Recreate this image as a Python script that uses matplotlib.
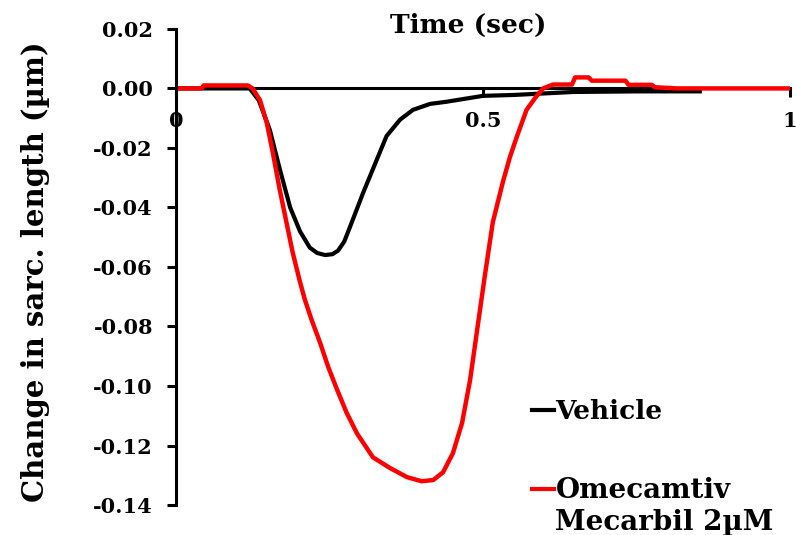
import matplotlib.pyplot as plt
from matplotlib.lines import Line2D

# Time (sec) and change in sarcomere length (um)
vehicle_t = [0.0, 0.12, 0.135, 0.153, 0.169, 0.186, 0.202, 0.218, 0.23, 0.243,
             0.255, 0.264, 0.274, 0.283, 0.305, 0.327, 0.343, 0.365, 0.386, 0.414,
             0.44, 0.47, 0.5, 0.55, 0.647, 0.75, 0.853]
vehicle_v = [0.0, 0.0, -0.004, -0.014, -0.027, -0.040, -0.048, -0.0535, -0.0553, -0.056,
             -0.0557, -0.0545, -0.0515, -0.0468, -0.035, -0.024, -0.016, -0.0105, -0.0072, -0.0052,
             -0.0045, -0.0035, -0.0025, -0.0022, -0.0012, -0.001, -0.001]

omecamtiv_t = [0.0, 0.042, 0.045, 0.117, 0.125, 0.137, 0.148, 0.158, 0.169, 0.18,
               0.19, 0.202, 0.21, 0.221, 0.235, 0.248, 0.262, 0.278, 0.295, 0.321,
               0.349, 0.376, 0.40, 0.419, 0.435, 0.451, 0.466, 0.479, 0.492, 0.503,
               0.516, 0.533, 0.544, 0.555, 0.571, 0.585, 0.598, 0.614, 0.645, 0.65,
               0.672, 0.677, 0.732, 0.737, 0.775, 0.78, 0.816, 1.0]
omecamtiv_v = [0.0, 0.0, 0.001, 0.001, 0.0, -0.004, -0.0116, -0.0218, -0.034, -0.045,
               -0.055, -0.065, -0.071, -0.0778, -0.0856, -0.0936, -0.101, -0.109, -0.116, -0.124,
               -0.1276, -0.1306, -0.132, -0.1316, -0.129, -0.1226, -0.1124, -0.098, -0.079, -0.063,
               -0.045, -0.031, -0.023, -0.0163, -0.0072, -0.0032, 0.0, 0.0013, 0.0013, 0.0037,
               0.0037, 0.0026, 0.0026, 0.0012, 0.0012, 0.0004, 0.0, 0.0]

series_labels = ["Vehicle", "Omecamtiv"]
label_second_line = "Mecarbil 2\u00b5M"
series_colors = ["black", "#ff0000"]

x_ticks = [0, 0.5, 1]
x_tick_labels = ["0", "0.5", "1"]
y_ticks = [0.02, 0.0, -0.02, -0.04, -0.06, -0.08, -0.10, -0.12, -0.14]

plt.rcParams['font.family'] = ['DejaVu Serif']
plt.rcParams['font.weight'] = 'bold'

fig = plt.figure(figsize=(7.96, 5.35), dpi=100)
ax = fig.add_axes([0.221, 0.056, 0.7715, 0.89])

ax.plot(vehicle_t, vehicle_v, color=series_colors[0], lw=3.0, zorder=3)
ax.plot(omecamtiv_t, omecamtiv_v, color=series_colors[1], lw=3.2, zorder=4)

ax.set_xlim(0, 1)
ax.set_ylim(-0.14, 0.02)
ax.spines['top'].set_visible(False)
ax.spines['right'].set_visible(False)
ax.spines['bottom'].set_position(('data', 0))
for s in ('left', 'bottom'):
    ax.spines[s].set_linewidth(2.2)
ax.spines['left'].set_zorder(5)

ax.set_xticks(x_ticks)
ax.set_xticklabels(x_tick_labels)
ax.set_yticks(y_ticks)
ax.set_yticklabels([f"{v:.2f}" for v in y_ticks])
ax.tick_params(axis='both', direction='out', length=6.5, width=2.2, labelsize=15)
ax.tick_params(axis='x', pad=10)
ax.tick_params(axis='y', pad=10)

ax.set_ylabel("Change in sarc. length (\u00b5m)", fontsize=21, fontweight='bold')
ax.yaxis.set_label_coords(-0.205, 0.49)
fig.text(0.588, 0.952, "Time (sec)", ha='center', va='center', fontsize=19, fontweight='bold')

handles = [Line2D([], [], color=c, lw=3) for c in series_colors]
leg = ax.legend(handles, series_labels, loc='upper left', bbox_to_anchor=(0.668, 1 - 399 / 535),
                bbox_transform=fig.transFigure, frameon=False, fontsize=19,
                handlelength=0.85, handletextpad=0.05, labelspacing=2.0,
                borderpad=0, borderaxespad=0)
leg.get_texts()[1].set_fontsize(20)

# second line of the Omecamtiv label, placed under its first line
fig.canvas.draw()
bb = leg.get_texts()[1].get_window_extent()
fig.text(bb.x0 / fig.bbox.width, (bb.y0 - 5) / fig.bbox.height, label_second_line,
         ha='left', va='top', fontsize=20, fontweight='bold')

fig.savefig("out.png", dpi=100)
